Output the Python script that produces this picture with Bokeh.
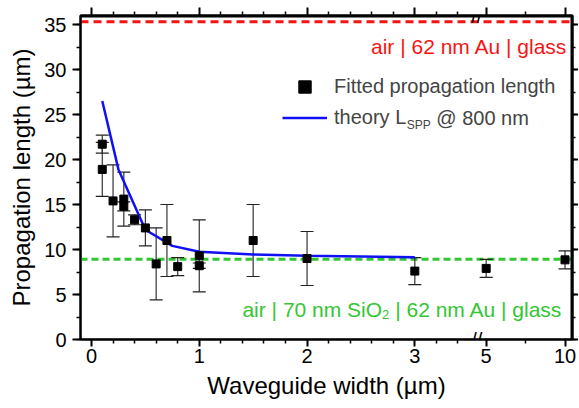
from bokeh.plotting import figure
from bokeh.models import (ColumnDataSource, Whisker, TeeHead, Span, Label, LinearAxis,
                          FixedTicker, SingleIntervalTicker, CustomJSTickFormatter, Range1d,
                          Legend, LegendItem, BoxAnnotation)
from bokeh.embed import file_html
from bokeh.resources import INLINE

# ---------------- data ----------------
width_um = [0.1, 0.1, 0.2, 0.3, 0.3, 0.4, 0.5, 0.6, 0.7, 0.8, 1.0, 1.0, 1.5, 2.0, 3.0, 5.0, 10.0]
fitted_len = [21.7, 18.9, 15.4, 15.6, 14.8, 13.3, 12.4, 8.4, 11.0, 8.1, 9.3, 8.2, 11.0, 9.0, 7.6, 7.9, 8.85]
fitted_err = [1.0, 3.0, 4.0, 3.0, 0.5, 0.55, 2.0, 4.0, 4.0, 1.0, 4.0, 0.3, 4.0, 3.0, 1.5, 1.0, 1.0]

theory_width = [0.1, 0.25, 0.5, 0.75, 1.0, 1.5, 2.0, 3.0]
theory_len = [26.5, 18.9, 12.2, 10.4, 9.75, 9.45, 9.3, 9.15]

level_air_au_glass = 35.3
level_air_sio2_au_glass = 8.93

x_major_ticks = [0, 1, 2, 3, 5, 10]
x_major_labels = ["0", "1", "2", "3", "5", "10"]
x_minor_ticks = [0.2, 0.4, 0.6, 0.8, 1.2, 1.4, 1.6, 1.8, 2.2, 2.4, 2.6, 2.8, 3.2, 3.4, 7.5]

# ---------------- broken x axis ----------------
SEG_END = 3.5      # last width shown on the linear left segment
R0 = 3.662         # axis position of width 5
K = 0.1463         # compression of the right segment
BREAK_AT = 3.574   # axis position of the break marks


def to_axis(w):
    return w if w <= SEG_END else R0 + (w - 5.0) * K


X0, X1 = -0.102, 4.463
Y0, Y1 = 0, 36
FW, FH = 492, 324
FONT = "Liberation Sans"

# Arial / Liberation Sans advance widths (per 1000 em)
ADV = {" ": 278, "|": 260, "a": 556, "i": 222, "r": 333, "n": 556, "m": 833, "S": 667, "O": 778,
       "A": 667, "u": 556, "g": 556, "l": 222, "s": 500, "t": 278, "h": 556, "e": 556, "o": 556,
       "y": 500, "L": 556, "@": 1015, "P": 667, "p": 556}


def text_w(s, size):
    return sum(ADV.get(c, 556) for c in s) / 1000.0 * size


def px_to_x(px):
    return X0 + px / FW * (X1 - X0)


def px_to_y(py):
    return Y0 + py / FH * (Y1 - Y0)


src = ColumnDataSource(dict(
    x=[to_axis(w) for w in width_um],
    y=fitted_len,
    upper=[v + e for v, e in zip(fitted_len, fitted_err)],
    lower=[v - e for v, e in zip(fitted_len, fitted_err)],
))
th_src = ColumnDataSource(dict(x=[to_axis(w) for w in theory_width], y=theory_len))

p = figure(frame_width=FW, frame_height=FH, x_range=Range1d(X0, X1), y_range=Range1d(Y0, Y1),
           output_backend="svg", toolbar_location=None,
           min_border_left=80, min_border_right=6, min_border_top=15, min_border_bottom=66)
p.xgrid.visible = False
p.ygrid.visible = False
p.outline_line_color = "black"
p.outline_line_width = 2
p.background_fill_color = None
p.border_fill_color = None

tick_formatter = CustomJSTickFormatter(
    args=dict(tick_pos=[to_axis(v) for v in x_major_ticks], tick_lab=x_major_labels),
    code="""
    let best = 0;
    for (let i = 0; i < tick_pos.length; i++) {
        if (Math.abs(tick_pos[i] - tick) < Math.abs(tick_pos[best] - tick)) best = i;
    }
    return tick_lab[best];
    """)
blank_formatter = CustomJSTickFormatter(code="return '';")


def x_ticker():
    return FixedTicker(ticks=[to_axis(v) for v in x_major_ticks],
                       minor_ticks=[to_axis(v) for v in x_minor_ticks])


def y_ticker():
    return SingleIntervalTicker(interval=5, num_minor_ticks=2)


def style_axis(ax):
    ax.axis_line_width = 2
    ax.axis_line_color = "black"
    ax.major_tick_line_width = 2
    ax.minor_tick_line_width = 1.5
    ax.major_tick_out = 8
    ax.major_tick_in = 0
    ax.minor_tick_out = 4
    ax.minor_tick_in = 0
    ax.major_label_text_font = FONT
    ax.major_label_text_font_size = "20px"
    ax.major_label_text_color = "black"
    ax.axis_label_text_font = FONT
    ax.axis_label_text_font_style = "normal"
    ax.axis_label_text_font_size = "24px"
    ax.axis_label_text_color = "black"


xa = p.xaxis[0]
xa.ticker = x_ticker()
xa.formatter = tick_formatter
xa.axis_label = "Waveguide width (µm)"
style_axis(xa)
xa.major_tick_out = 7
xa.major_label_standoff = 2
xa.axis_label_standoff = 6

ya = p.yaxis[0]
ya.ticker = y_ticker()
ya.axis_label = "Propagation length (µm)"
style_axis(ya)
ya.major_label_standoff = 6
ya.axis_label_standoff = 6

top = LinearAxis(ticker=x_ticker(), formatter=blank_formatter)
style_axis(top)
top.major_label_text_font_size = "1px"
top.major_label_standoff = 0
p.add_layout(top, "above")

right = LinearAxis(ticker=y_ticker(), formatter=blank_formatter)
style_axis(right)
right.major_tick_out = 6
right.minor_tick_out = 3
right.major_label_text_font_size = "1px"
right.major_label_standoff = 0
p.add_layout(right, "right")

# frame box (top and right edges), drawn just inside the frame
p.add_layout(BoxAnnotation(left=X0, right=X1, bottom=Y0, top=Y1, fill_alpha=0,
                           line_color="black", line_width=2, level="overlay"))
p.add_layout(Span(location=px_to_y(FH - 1), dimension="width", line_color="black",
                  line_width=2, level="overlay"))
p.add_layout(Span(location=px_to_x(FW - 1), dimension="height", line_color="black",
                  line_width=2, level="overlay"))

# reference levels
p.add_layout(Span(location=level_air_au_glass, dimension="width", line_color="#f51515",
                  line_width=3, line_dash="8 5", level="underlay"))
p.add_layout(Span(location=level_air_sio2_au_glass, dimension="width", line_color="#33c633",
                  line_width=3, line_dash="7 4", level="underlay"))

# error bars
wk = Whisker(source=src, base="x", upper="upper", lower="lower", dimension="height",
             line_color="#333333", line_width=1.2, level="underlay",
             upper_head=TeeHead(size=13, line_color="#222222", line_width=1.2),
             lower_head=TeeHead(size=13, line_color="#222222", line_width=1.2))
p.add_layout(wk)

ln = p.line("x", "y", source=th_src, line_color="#1010f5", line_width=2.5)
sq = p.scatter("x", "y", source=src, marker="square", size=8, fill_color="black",
               line_color="black")

# legend
LEG_FS = 20
GLYPH_W, ROW_H, STANDOFF = 45, 31, 7
lx = 202
ly = 206
legend = Legend(items=[LegendItem(label="Fitted propagation length", renderers=[sq]),
                       LegendItem(label="theory L", renderers=[ln])],
                location=(lx, ly), padding=0, spacing=0, margin=0,
                glyph_width=GLYPH_W, glyph_height=ROW_H, label_height=ROW_H,
                label_standoff=STANDOFF, label_text_font=FONT,
                label_text_font_size=f"{LEG_FS}px", border_line_alpha=0,
                background_fill_alpha=0)
p.add_layout(legend, "center")

text_start = lx + GLYPH_W + STANDOFF
row2_y = px_to_y(ly + ROW_H / 2)
sub_x = text_start + text_w("theory L", LEG_FS)
p.add_layout(Label(x=px_to_x(sub_x), y=row2_y, text="SPP", text_font=FONT,
                   text_font_size="12px", text_baseline="middle", text_align="left",
                   y_offset=-7))
p.add_layout(Label(x=px_to_x(sub_x + text_w("SPP", 12) + text_w(" ", LEG_FS)), y=row2_y,
                   text="@ 800 nm", text_font=FONT, text_font_size=f"{LEG_FS}px",
                   text_baseline="middle", text_align="left"))

# level annotations
LBL_FS = 21
p.add_layout(Label(x=px_to_x(FW - 5), y=32.6, text="air | 62 nm Au | glass",
                   text_font=FONT, text_font_size=f"{LBL_FS}px", text_color="#f51515",
                   text_align="right", text_baseline="alphabetic"))

g_right = px_to_x(FW - 10)
part3 = "| 62 nm Au | glass"
w3 = text_w(part3, LBL_FS) + text_w(" ", LBL_FS)
w_sub = text_w("2", 13)
green = "#33c633"
p.add_layout(Label(x=g_right, y=3.3, text=part3, text_font=FONT, text_font_size=f"{LBL_FS}px",
                   text_color=green, text_align="right", text_baseline="alphabetic"))
p.add_layout(Label(x=g_right, y=3.3, x_offset=-w3, y_offset=-5, text="2", text_font=FONT,
                   text_font_size="13px", text_color=green, text_align="right",
                   text_baseline="alphabetic"))
p.add_layout(Label(x=g_right, y=3.3, x_offset=-(w3 + w_sub), text="air | 70 nm SiO",
                   text_font=FONT, text_font_size=f"{LBL_FS}px", text_color=green,
                   text_align="right", text_baseline="alphabetic"))

# axis break marks
for yb in (Y0, Y1):
    p.add_layout(Label(x=BREAK_AT, y=yb, text="//", text_font=FONT, text_font_size="20px",
                       text_align="center", text_baseline="middle", text_color="black"))

open("out.html", "w").write(file_html(p, INLINE))
